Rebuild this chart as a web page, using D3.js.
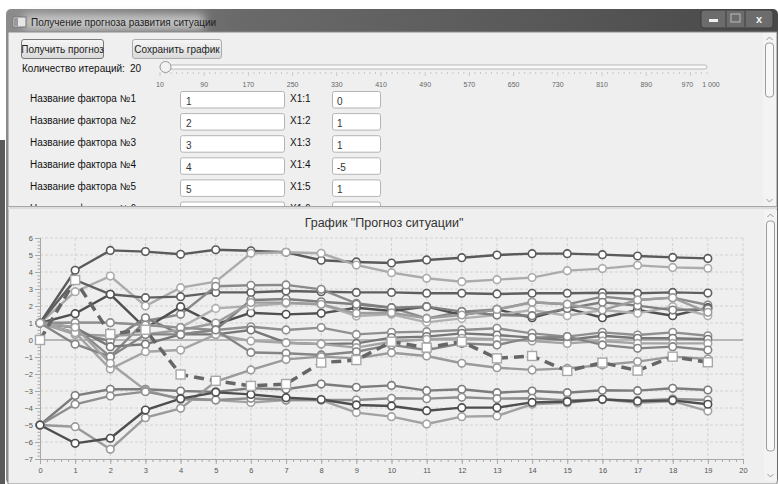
<!DOCTYPE html>
<html>
<head>
<meta charset="utf-8">
<script src="https://cdn.jsdelivr.net/npm/d3@7"></script>
<style>
  body { margin: 0; background: #fff; }
  svg { display: block; font-family: "Liberation Sans", Arial, sans-serif; }
</style>
</head>
<body>
<svg id="win" width="778" height="484"></svg>
<script>
// ---- data ----
const steps = [0, 1, 2, 3, 4, 5, 6, 7, 8, 9, 10, 11, 12, 13, 14, 15, 16, 17, 18, 19];

const f1 = [0, 3.53, 0.35, 0.6, -2.03, -2.4, -2.7, -2.59, -1.33, -1.18, -0.1, -0.45, -0.1, -1.08, -0.94, -1.82, -1.33, -1.8, -0.98, -1.31];
const f2 = [1, 4.1, 5.27, 5.2, 5.04, 5.31, 5.25, 5.16, 4.69, 4.59, 4.53, 4.71, 4.84, 5.0, 5.08, 5.08, 5.02, 4.94, 4.86, 4.8];
const f3 = [1, 2.84, 3.76, 2.0, 3.08, 3.43, 5.1, 5.16, 5.1, 4.41, 3.96, 3.63, 3.43, 3.55, 3.67, 4.08, 4.2, 4.39, 4.27, 4.22];
const f4 = [-5, -3.27, -2.9, -2.9, -3.0, -3.05, -2.84, -2.9, -2.59, -2.78, -2.67, -2.98, -2.9, -3.1, -3.0, -3.1, -2.96, -2.98, -2.84, -2.94];
const f5 = [1, 3.53, 2.69, 2.49, 2.55, 2.8, 2.8, 2.88, 2.84, 2.8, 2.8, 2.75, 2.75, 2.71, 2.75, 2.75, 2.78, 2.75, 2.8, 2.76];
const f6 = [1, 0.73, -0.98, 1.12, 1.51, 3.16, 3.22, 3.24, 2.98, 2.16, 1.9, 1.27, 1.67, 1.8, 2.22, 2.1, 2.55, 2.35, 2.49, 2.06];
const f7 = [1, 1.55, 2.69, 0.69, 1.96, 0.92, 1.6, 1.51, 1.57, 1.9, 1.71, 1.96, 1.47, 1.8, 1.31, 1.86, 1.31, 1.76, 1.43, 1.9];
const f8 = [1, 1.02, 1.02, 0.88, 0.73, 1.86, 2.0, 2.16, 2.1, 1.41, 1.51, 1.04, 1.27, 1.47, 1.76, 1.43, 1.76, 1.57, 1.96, 1.43];
const f9 = [1, 0.43, -0.06, 1.31, 0.33, 0.59, 2.35, 2.41, 2.25, 2.1, 1.9, 1.96, 1.67, 1.47, 1.43, 1.86, 2.22, 2.02, 1.76, 1.82];
const f10 = [1, 0.33, 0.25, 0.33, 0.59, 1.0, 2.2, 2.2, 2.1, 1.57, 1.6, 1.27, 1.47, 1.8, 2.22, 2.1, 1.76, 2.35, 2.49, 1.63];
const f11 = [1, 1.02, 1.02, 0.88, 0.73, 0.59, 0.78, 0.59, 0.73, 0.33, 0.45, 0.49, 0.59, 0.69, 0.39, 0.2, 0.45, 0.29, 0.45, 0.25];
const f12 = [1, 0.73, -0.39, -0.25, 0.33, 0.33, 0.59, -0.16, -0.24, -0.2, 0.14, 0.2, 0.39, 0.29, 0.14, 0.0, 0.25, 0.1, 0.1, 0.04];
const f13 = [1, 0.43, -1.71, -0.69, -0.59, 0.33, -0.06, -0.16, -0.24, -0.45, -0.1, 0.04, 0.1, 0.04, -0.06, -0.2, -0.06, -0.2, -0.2, -0.2];
const f14 = [1, -0.25, -0.98, 0.33, 0.33, 0.59, -0.73, -0.78, -0.88, -0.69, -0.29, -0.59, -0.2, -0.29, 0.14, 0.2, -0.29, -0.49, -0.39, -0.59];
const f15 = [-5, -5.1, -6.43, -4.57, -4.02, -2.45, -1.76, -1.14, -0.98, -1.08, -0.75, -0.94, -1.37, -1.63, -1.76, -1.67, -1.47, -1.27, -0.98, -1.12];
const f16 = [1, 0.75, -1.37, -2.95, -3.5, -3.53, -3.67, -3.53, -3.53, -4.27, -4.51, -4.94, -4.51, -4.47, -3.78, -3.7, -3.49, -3.7, -3.6, -4.18];
const f17 = [-5, -3.78, -3.29, -3.04, -3.43, -3.53, -3.43, -3.53, -3.53, -3.53, -3.43, -3.45, -3.37, -3.45, -3.43, -3.55, -3.49, -3.57, -3.47, -3.53];
const f18 = [-5, -6.08, -5.78, -4.12, -3.45, -3.08, -3.2, -3.39, -3.5, -3.82, -3.88, -4.16, -3.98, -3.98, -3.67, -3.63, -3.49, -3.6, -3.55, -3.78];

const series = [f2, f3, f4, f5, f6, f7, f8, f9, f10, f11, f12, f13, f14, f15, f16, f17, f18];
const seriesColors = ['#5a5a5a', '#ababab', '#7c7c7c', '#5f5f5f', '#8a8a8a', '#505050', '#b0b0b0', '#7e7e7e', '#9d9d9d',
  '#8f8f8f', '#777777', '#a4a4a4', '#858585', '#9a9a9a', '#a2a2a2', '#8e8e8e', '#4e4e4e'];

const factorNames = ['Название фактора №1', 'Название фактора №2', 'Название фактора №3', 'Название фактора №4', 'Название фактора №5', 'Название фактора №6'];
const factorIds = ['1', '2', '3', '4', '5', ''];
const coefNames = ['X1:1', 'X1:2', 'X1:3', 'X1:4', 'X1:5', 'X1:6'];
const coefValues = ['0', '1', '1', '-5', '1', ''];
const sliderTicks = [10, 90, 170, 250, 330, 410, 490, 570, 650, 730, 810, 890, 970, 1000];
const iterations = 20;

const svg = d3.select('#win');

// ---- window chrome ----
let defs = svg.append('defs');
let tg = defs.append('linearGradient').attr('id', 'titleGrad');
tg.append('stop').attr('offset', '0%').attr('stop-color', '#8c8c8c');
tg.append('stop').attr('offset', '30%').attr('stop-color', '#6a6a6a');
tg.append('stop').attr('offset', '70%').attr('stop-color', '#585858');
tg.append('stop').attr('offset', '100%').attr('stop-color', '#484848');
let bg = defs.append('linearGradient').attr('id', 'btnGrad').attr('x2', 0).attr('y2', 1);
bg.append('stop').attr('offset', '0%').attr('stop-color', '#f6f6f6');
bg.append('stop').attr('offset', '100%').attr('stop-color', '#d9d9d9');
defs.append('filter').attr('id', 'glow').attr('x', -0.2).attr('y', -1).attr('width', 1.4).attr('height', 3)
  .append('feGaussianBlur').attr('stdDeviation', 5);
defs.append('clipPath').attr('id', 'topClip')
  .append('rect').attr('x', 8).attr('y', 33).attr('width', 755).attr('height', 173);

svg.append('rect').attr('x', 0).attr('y', 140).attr('width', 5).attr('height', 344).attr('fill', '#5a5a5a');
svg.append('rect').attr('x', 6).attr('y', 9).attr('width', 772).attr('height', 475).attr('rx', 5).attr('fill', 'url(#titleGrad)');
svg.append('rect').attr('x', 24).attr('y', 14).attr('width', 180).attr('height', 16).attr('fill', '#d8d8d8')
  .attr('opacity', 0.8).attr('filter', 'url(#glow)');
svg.append('rect').attr('x', 13).attr('y', 17).attr('width', 13).attr('height', 10).attr('fill', '#e6e6e6').attr('stroke', '#777');
svg.append('rect').attr('x', 14).attr('y', 18).attr('width', 4).attr('height', 8).attr('fill', '#999');
svg.append('text').attr('x', 31).attr('y', 26).attr('font-size', 10).attr('fill', '#1e1e1e')
  .text('Получение прогноза развития ситуации');

// caption buttons
svg.append('rect').attr('x', 701).attr('y', 10).attr('width', 72).attr('height', 18).attr('rx', 3)
  .attr('fill', '#6c6c6c').attr('stroke', '#3c3c3c');
svg.append('line').attr('x1', 726).attr('x2', 726).attr('y1', 11).attr('y2', 27).attr('stroke', '#3c3c3c');
svg.append('line').attr('x1', 745).attr('x2', 745).attr('y1', 11).attr('y2', 27).attr('stroke', '#3c3c3c');
svg.append('rect').attr('x', 709).attr('y', 19).attr('width', 9).attr('height', 3).attr('fill', '#f0f0f0');
svg.append('rect').attr('x', 731).attr('y', 14).attr('width', 9).attr('height', 8).attr('fill', 'none').attr('stroke', '#bbb');
svg.append('text').attr('x', 759).attr('y', 23).attr('text-anchor', 'middle').attr('font-size', 11)
  .attr('font-weight', 'bold').attr('fill', '#f4f4f4').text('x');

// client area
svg.append('rect').attr('x', 8).attr('y', 32).attr('width', 769).attr('height', 452).attr('fill', '#efefef')
  .attr('stroke', '#8a8a8a');

// ---- top panel ----
const topPanel = svg.append('g').attr('clip-path', 'url(#topClip)');

function button(x, w, label, border) {
  topPanel.append('rect').attr('x', x).attr('y', 39.5).attr('width', w).attr('height', 19).attr('rx', 2.5)
    .attr('fill', 'url(#btnGrad)').attr('stroke', border);
  topPanel.append('text').attr('x', x + w / 2).attr('y', 52.5).attr('text-anchor', 'middle')
    .attr('font-size', 10).attr('fill', '#222').text(label);
}
button(21.5, 82, 'Получить прогноз', '#7a7a7a');
button(132.5, 89, 'Сохранить график', '#acacac');

topPanel.append('text').attr('x', 22).attr('y', 72).attr('font-size', 10).attr('fill', '#111').text('Количество итераций:');
topPanel.append('text').attr('x', 130).attr('y', 72).attr('font-size', 10).attr('fill', '#111').text(iterations);

const sx = d3.scaleLinear().domain([10, 1000]).range([160, 707]);
topPanel.append('rect').attr('x', 160).attr('y', 65).attr('width', 547).attr('height', 4).attr('rx', 2)
  .attr('fill', '#fafafa').attr('stroke', '#b8b8b8');
topPanel.append('g').selectAll('line').data(d3.range(10, 1001, 10)).join('line')
  .attr('x1', d => sx(d)).attr('x2', d => sx(d)).attr('y1', 72).attr('y2', d => (d - 10) % 80 === 0 ? 76 : 74)
  .attr('stroke', '#b0b0b0').attr('stroke-width', 0.6);
topPanel.append('g').selectAll('text').data(sliderTicks).join('text')
  .attr('x', d => sx(d) + (d === 1000 ? 4 : (d === 970 ? -3 : 0))).attr('y', 87).attr('text-anchor', 'middle')
  .attr('font-size', 7).attr('fill', '#666').text(d => d === 1000 ? '1 000' : d);
topPanel.append('circle').attr('cx', sx(iterations)).attr('cy', 67).attr('r', 5.5)
  .attr('fill', '#f2f2f2').attr('stroke', '#9a9a9a');

const rowY = d3.scaleLinear().domain([0, 1]).range([99.5, 121.6]);
const rows = topPanel.append('g').selectAll('g').data(factorNames).join('g')
  .attr('transform', (d, i) => `translate(0,${rowY(i)})`);
rows.append('text').attr('x', 30).attr('y', 2).attr('font-size', 10).attr('fill', '#111').text(d => d);
rows.append('rect').attr('x', 180.5).attr('y', -8).attr('width', 104).attr('height', 16.5).attr('rx', 2)
  .attr('fill', '#fff').attr('stroke', '#b4b4b4');
rows.append('text').attr('x', 186).attr('y', 5).attr('font-size', 10).attr('fill', '#333').text((d, i) => factorIds[i]);
rows.append('text').attr('x', 290).attr('y', 2).attr('font-size', 10).attr('fill', '#111').text((d, i) => coefNames[i]);
rows.append('rect').attr('x', 332.5).attr('y', -8).attr('width', 48).attr('height', 16.5).attr('rx', 2)
  .attr('fill', '#fff').attr('stroke', '#b4b4b4');
rows.append('text').attr('x', 337).attr('y', 5).attr('font-size', 10).attr('fill', '#333').text((d, i) => coefValues[i]);

// scrollbar
function scrollbar(x, y0, y1, t0, t1) {
  svg.append('rect').attr('x', x).attr('y', y0).attr('width', 13).attr('height', y1 - y0).attr('fill', '#f3f3f3');
  svg.append('rect').attr('x', x + 2.5).attr('y', t0).attr('width', 8).attr('height', t1 - t0).attr('rx', 3)
    .attr('fill', '#f8f8f8').attr('stroke', '#9c9c9c');
  svg.append('path').attr('d', `M${x + 3.5},${y0 + 7} L${x + 6.5},${y0 + 4} L${x + 9.5},${y0 + 7}`)
    .attr('fill', 'none').attr('stroke', '#999');
  svg.append('path').attr('d', `M${x + 3.5},${y1 - 7} L${x + 6.5},${y1 - 4} L${x + 9.5},${y1 - 7}`)
    .attr('fill', 'none').attr('stroke', '#999');
}
scrollbar(763, 33, 206, 43, 97);

// splitter
svg.append('rect').attr('x', 8).attr('y', 206).attr('width', 769).attr('height', 3).attr('fill', '#dcdcdc');
svg.append('line').attr('x1', 8).attr('x2', 777).attr('y1', 206.5).attr('y2', 206.5).attr('stroke', '#a8a8a8');
scrollbar(764, 210, 481, 221, 451);

// ---- chart ----
const x = d3.scaleLinear().domain([0, 20]).range([40, 743]);
const y = d3.scaleLinear().domain([-7, 6]).range([459, 238]);
const chart = svg.append('g');

chart.append('text').attr('x', 384).attr('y', 227).attr('text-anchor', 'middle')
  .attr('font-size', 12.5).attr('fill', '#333').text('График "Прогноз ситуации"');

// grid
chart.append('g').selectAll('line').data(d3.range(1, 21)).join('line')
  .attr('x1', d => x(d)).attr('x2', d => x(d)).attr('y1', y(6)).attr('y2', y(-7))
  .attr('stroke', '#d2d2d2').attr('stroke-dasharray', '3,2');
chart.append('g').selectAll('line').data(d3.range(-6, 7)).join('line')
  .attr('x1', x(0)).attr('x2', x(20)).attr('y1', d => y(d)).attr('y2', d => y(d))
  .attr('stroke', '#d2d2d2').attr('stroke-dasharray', '3,2');

// axes
const yMinor = chart.append('g').attr('transform', `translate(${x(0)},0)`)
  .call(d3.axisLeft(y).tickValues(d3.range(-35, 31).map(d => d / 5)).tickSize(2.5).tickFormat(''));
const yMajor = chart.append('g').attr('transform', `translate(${x(0)},0)`)
  .call(d3.axisLeft(y).tickValues(d3.range(-7, 7)).tickSize(5).tickFormat(d3.format('d')));
const xMinor = chart.append('g').attr('transform', `translate(0,${y(-7)})`)
  .call(d3.axisBottom(x).tickValues(d3.range(0, 101).map(d => d / 5)).tickSize(3).tickFormat(''));
const xMajor = chart.append('g').attr('transform', `translate(0,${y(-7)})`)
  .call(d3.axisBottom(x).tickValues(d3.range(0, 21)).tickSize(5).tickFormat(d3.format('d')));
[yMinor, yMajor, xMinor, xMajor].forEach(a => {
  a.select('.domain').attr('stroke', '#a8a8a8');
  a.selectAll('line').attr('stroke', '#a8a8a8');
  a.selectAll('text').attr('fill', '#555').attr('font-size', 7.5)
    .attr('font-family', '"Liberation Sans", Arial, sans-serif');
});
yMajor.selectAll('text').attr('x', -7);
xMajor.selectAll('text').attr('y', 9);

// zero line
chart.append('line').attr('x1', x(0)).attr('x2', x(20)).attr('y1', y(0)).attr('y2', y(0))
  .attr('stroke', '#a9a9a9').attr('stroke-width', 1.5);

const line = d3.line().x((d, i) => x(steps[i])).y(d => y(d));

chart.append('g').selectAll('path').data(series).join('path')
  .attr('d', line).attr('fill', 'none')
  .attr('stroke', (d, i) => seriesColors[i]).attr('stroke-width', 2.4);

chart.append('path').datum(f1).attr('d', line).attr('fill', 'none')
  .attr('stroke', '#666').attr('stroke-width', 3.5).attr('stroke-dasharray', '10,6');

series.forEach((s, k) => {
  chart.append('g').selectAll('circle').data(s).join('circle')
    .attr('cx', (d, i) => x(steps[i])).attr('cy', d => y(d)).attr('r', 3.8)
    .attr('fill', '#fff').attr('stroke', seriesColors[k]).attr('stroke-width', 1.6);
});

chart.append('g').selectAll('rect').data(f1).join('rect')
  .attr('x', (d, i) => x(steps[i]) - 4.5).attr('y', d => y(d) - 4.5)
  .attr('width', 9).attr('height', 9)
  .attr('fill', '#fff').attr('stroke', '#a8a8a8').attr('stroke-width', 1.4);
</script>
</body>
</html>
